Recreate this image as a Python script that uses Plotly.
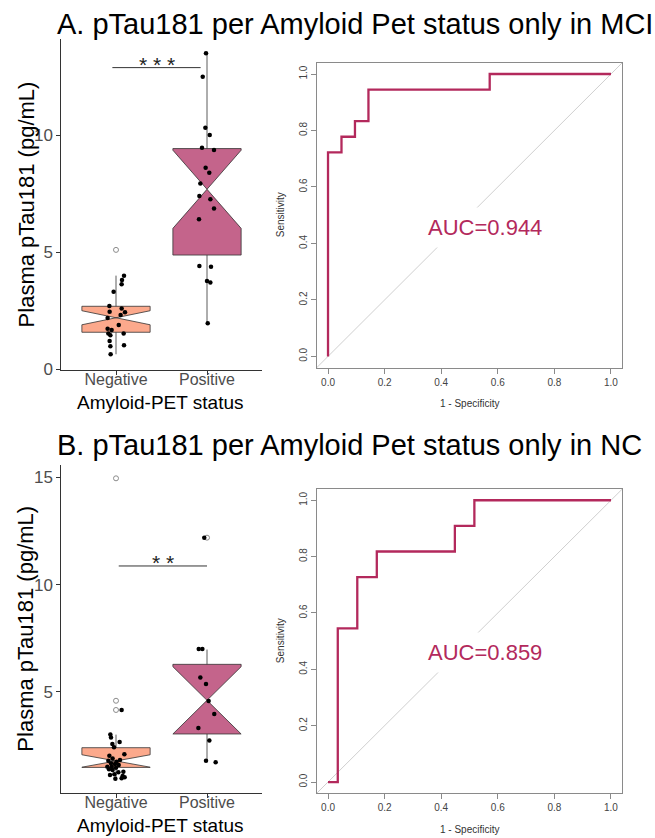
import plotly.graph_objects as go

W, H = 655, 838
FONT = "Liberation Sans, Arial, sans-serif"

# ---------------- data ----------------
categories = ["Negative", "Positive"]
panel_titles = ["A. pTau181 per Amyloid Pet status only in MCI",
                "B. pTau181 per Amyloid Pet status only in NC"]
significance = ["* * *", "* *"]
auc_values = [0.944, 0.859]

# Panel A (MCI) - jittered observations
mci_neg_values = [3.99, 3.80, 3.62, 3.30, 2.69, 2.59, 2.45, 2.42, 2.31, 2.18,
                  1.88, 1.72, 1.67, 1.52, 1.52, 1.44, 1.20, 1.01, 0.97, 0.63]
mci_neg_jitter = [0.088, 0.066, 0.062, -0.026, -0.073, 0.062, -0.07, 0.099, 0.051, -0.092,
                  0.03, -0.092, -0.048, -0.084, 0.084, -0.062, -0.07, 0.088, -0.062, -0.059]
mci_pos_values = [13.49, 12.49, 10.31, 10.0, 9.46, 9.36, 8.60, 8.39, 7.93, 7.39,
                  7.25, 6.86, 6.40, 4.40, 4.37, 3.76, 3.70, 1.95]
mci_pos_jitter = [-0.011, -0.047, -0.018, 0.03, -0.055, 0.077, -0.015, 0.025, -0.073, -0.084,
                  0.037, 0.077, -0.088, -0.084, 0.044, 0.0, 0.037, 0.008]
# Panel A box statistics (Negative, Positive)
mci_q1 = [1.57, 4.87]
mci_median = [2.19, 7.68]
mci_q3 = [2.68, 9.42]
mci_lowerfence = [0.63, 1.95]
mci_upperfence = [3.99, 13.50]
mci_notchspan = [0.30, 1.67]
mci_outlier_group = [0]
mci_outlier_values = [5.09]
mci_sig_y = 12.88

# Panel B (NC) - jittered observations
nc_neg_values = [4.15, 3.01, 2.86, 2.66, 2.56, 2.41, 2.08, 2.02, 1.89, 1.82,
                 1.78, 1.74, 1.66, 1.63, 1.58, 1.50, 1.50, 1.46, 1.38, 1.35,
                 1.27, 1.24, 1.15, 1.12, 1.07, 0.96, 0.94, 1.01]
nc_neg_jitter = [0.062, -0.062, -0.055, 0.04, -0.04, -0.022, 0.092, -0.073, -0.037, 0.044,
                 -0.084, 0.007, -0.055, -0.011, 0.03, -0.095, -0.047, 0.0, -0.077, -0.037,
                 0.081, 0.026, -0.018, -0.066, 0.073, 0.062, -0.007, 0.095]
nc_pos_values = [12.19, 6.99, 6.99, 5.66, 5.36, 4.57, 3.96, 3.31, 2.73, 1.78, 1.71]
nc_pos_jitter = [-0.03, -0.091, -0.051, -0.073, -0.011, 0.018, 0.08, -0.095, 0.026, -0.011, 0.095]
nc_q1 = [1.47, 3.03]
nc_median = [1.77, 4.60]
nc_q3 = [2.39, 6.28]
nc_lowerfence = [0.93, 1.78]
nc_upperfence = [3.00, 6.97]
nc_notchspan = [0.29, 1.57]
nc_outlier_group = [0, 0, 0, 1]
nc_outlier_values = [14.96, 4.58, 4.15, 12.19]
nc_sig_y = 10.87

# ROC curves (1 - specificity, sensitivity)
mci_fpr = [0.0, 0.0, 0.0476, 0.0476, 0.0952, 0.0952, 0.1429, 0.1429, 0.5714, 0.5714, 1.0]
mci_tpr = [0.0, 0.7222, 0.7222, 0.7778, 0.7778, 0.8333, 0.8333, 0.9444, 0.9444, 1.0, 1.0]
nc_fpr = [0.0, 0.0345, 0.0345, 0.1034, 0.1034, 0.1724, 0.1724, 0.4483, 0.4483, 0.5172, 0.5172, 1.0]
nc_tpr = [0.0, 0.0, 0.5455, 0.5455, 0.7273, 0.7273, 0.8182, 0.8182, 0.9091, 0.9091, 1.0, 1.0]

# ---------------- styles ----------------
box_fill = ["#FCA98C", "#C4648B"]
box_line = "#333333"
roc_color = "#B3295C"

def px_x(p):
    return p / W

def px_y(p):
    return 1 - p / H

fig = go.Figure()

panels = [
    dict(vals=[(mci_neg_values, mci_neg_jitter), (mci_pos_values, mci_pos_jitter)],
         q1=mci_q1, med=mci_median, q3=mci_q3, lf=mci_lowerfence, uf=mci_upperfence,
         notch=mci_notchspan, og=mci_outlier_group, ov=mci_outlier_values,
         fpr=mci_fpr, tpr=mci_tpr, sig_y=mci_sig_y,
         box_y=(39.06, 369.7), yrange=[-0.03, 14.1], ytick=[0, 5, 10],
         roc_y=(62.7, 367.7), sig_x=(-0.04, 0.93), title_y=24),
    dict(vals=[(nc_neg_values, nc_neg_jitter), (nc_pos_values, nc_pos_jitter)],
         q1=nc_q1, med=nc_median, q3=nc_q3, lf=nc_lowerfence, uf=nc_upperfence,
         notch=nc_notchspan, og=nc_outlier_group, ov=nc_outlier_values,
         fpr=nc_fpr, tpr=nc_tpr, sig_y=nc_sig_y,
         box_y=(464.6, 792.7), yrange=[0.29, 15.6], ytick=[5, 10, 15],
         roc_y=(489.0, 793.3), sig_x=(0.03, 1.0), title_y=445),
]

box_x = (61.4, 261.6)
roc_x = (316.7, 622.3)
layout = dict(width=W, height=H, autosize=False,
              margin=dict(l=0, r=0, t=0, b=0),
              paper_bgcolor="white", plot_bgcolor="white",
              showlegend=False, font=dict(family=FONT))
annotations = []
shapes = []


def ann(**kw):
    base = dict(showarrow=False, xanchor="center", yanchor="middle")
    base.update(kw)
    annotations.append(base)


for i, p in enumerate(panels):
    bx = 2 * i + 1
    rx = 2 * i + 2
    bxa = "x" if bx == 1 else f"x{bx}"
    bya = "y" if bx == 1 else f"y{bx}"
    rxa = f"x{rx}"
    rya = f"y{rx}"

    # boxes
    for g in range(2):
        fig.add_trace(go.Box(
            x=[g], q1=[p["q1"][g]], median=[p["med"][g]], q3=[p["q3"][g]],
            lowerfence=[p["lf"][g]], upperfence=[p["uf"][g]],
            notchspan=[p["notch"][g]], notched=True, notchwidth=0.5,
            width=0.75, whiskerwidth=0, boxpoints=False,
            fillcolor=box_fill[g], line=dict(color=box_line, width=0.8),
            xaxis=bxa, yaxis=bya, hoverinfo="skip"))
    # outliers
    fig.add_trace(go.Scatter(
        x=p["og"], y=p["ov"], mode="markers",
        marker=dict(symbol="circle-open", size=5, color="#8C8C8C", line=dict(width=1)),
        xaxis=bxa, yaxis=bya, hoverinfo="skip"))
    # jittered points
    for g in range(2):
        v, j = p["vals"][g]
        fig.add_trace(go.Scatter(
            x=[g + d for d in j], y=v, mode="markers",
            marker=dict(size=4.5, color="black"),
            xaxis=bxa, yaxis=bya, hoverinfo="skip"))
    # ROC
    fig.add_trace(go.Scatter(
        x=p["fpr"], y=p["tpr"], mode="lines",
        line=dict(color=roc_color, width=2.3),
        xaxis=rxa, yaxis=rya, hoverinfo="skip"))

    box_axis_common = dict(showgrid=False, zeroline=False, showline=True,
                           linecolor="#333333", linewidth=1, ticks="outside",
                           ticklen=4, tickcolor="#333333", tickwidth=1,
                           tickfont=dict(family=FONT, size=17, color="#4D4D4D"),
                           automargin=False, fixedrange=True)
    layout["xaxis" + ("" if bx == 1 else str(bx))] = dict(
        box_axis_common, domain=[px_x(box_x[0]), px_x(box_x[1])],
        range=[-0.6, 1.6], tickvals=[0, 1], ticktext=categories, anchor=bya,
        ticklabelstandoff=-9, tickfont=dict(family=FONT, size=16, color="#4D4D4D"))
    layout["yaxis" + ("" if bx == 1 else str(bx))] = dict(
        box_axis_common, domain=[px_y(p["box_y"][1]), px_y(p["box_y"][0])],
        range=p["yrange"], tickvals=p["ytick"], anchor=bxa)

    roc_axis_common = dict(showgrid=False, zeroline=False, showline=True, mirror=True,
                           linecolor="#8A8A8A", linewidth=1, ticks="outside",
                           ticklen=5, tickcolor="#8A8A8A", tickwidth=1,
                           tickvals=[0, 0.2, 0.4, 0.6, 0.8, 1.0], tickformat=".1f",
                           tickfont=dict(family=FONT, size=10, color="#444444"),
                           range=[-0.04, 1.04], automargin=False, fixedrange=True)
    layout[rxa.replace("x", "xaxis")] = dict(
        roc_axis_common, domain=[px_x(roc_x[0]), px_x(roc_x[1])], anchor=rya)
    layout[rya.replace("y", "yaxis")] = dict(
        roc_axis_common, domain=[px_y(p["roc_y"][1]), px_y(p["roc_y"][0])],
        anchor=rxa, tickangle=-90)

    # diagonal reference line (y = x) across the ROC panel
    shapes.append(dict(type="line", xref=rxa + " domain", yref=rya + " domain",
                       x0=0, y0=0, x1=1, y1=1, layer="below",
                       line=dict(color="#CFCFCF", width=1)))
    # significance bar
    shapes.append(dict(type="line", xref=bxa, yref=bya,
                       x0=p["sig_x"][0], x1=p["sig_x"][1], y0=p["sig_y"], y1=p["sig_y"],
                       line=dict(color="#333333", width=1)))
    ann(xref=bxa, yref=bya, x=sum(p["sig_x"]) / 2, y=p["sig_y"],
        text=significance[i], yshift=3,
        font=dict(family=FONT, size=21, color="#222222"))
    # AUC label
    ann(xref=rxa, yref=rya, x=0.555, y=0.458,
        text=f"AUC={auc_values[i]:.3f}", bgcolor="white", borderpad=7,
        font=dict(family=FONT, size=22, color=roc_color))
    # panel title
    ann(xref="paper", yref="paper", x=px_x(55), y=px_y(p["title_y"]),
        xanchor="left", text=panel_titles[i],
        font=dict(family=FONT, size=29, color="black"))
    # box-plot axis titles
    by0, by1 = p["box_y"]
    ann(xref="paper", yref="paper", x=px_x(26), y=px_y((by0 + by1) / 2),
        text="Plasma pTau181 (pg/mL)", textangle=-90,
        font=dict(family=FONT, size=22, color="black"))
    ann(xref="paper", yref="paper", x=px_x(160), y=px_y(by1 + 33),
        text="Amyloid-PET status",
        font=dict(family=FONT, size=19, color="black"))
    # ROC axis titles
    ry0, ry1 = p["roc_y"]
    ann(xref="paper", yref="paper", x=px_x(280), y=px_y((ry0 + ry1) / 2),
        text="Sensitivity", textangle=-90,
        font=dict(family=FONT, size=10, color="#333333"))
    ann(xref="paper", yref="paper", x=px_x((roc_x[0] + roc_x[1]) / 2),
        y=px_y(ry1 + 36), text="1 - Specificity",
        font=dict(family=FONT, size=10, color="#333333"))

layout["annotations"] = annotations
layout["shapes"] = shapes
fig.update_layout(**layout)
fig.write_html("out.html")
